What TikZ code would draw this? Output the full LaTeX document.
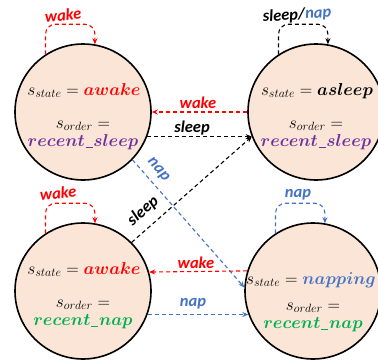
\documentclass[tikz,border=0pt]{standalone}
\usepackage{amsmath,bm}
\usepackage{fontspec}
\newfontfamily\lblfont{Carlito}
\usetikzlibrary{arrows.meta,calc}
\DeclareMathSizes{17}{17}{12.5}{10}
\definecolor{peach}{HTML}{FBE5D6}
\definecolor{myred}{HTML}{FF0000}
\definecolor{myblue}{HTML}{4472C4}
\definecolor{mypurple}{HTML}{7030A0}
\definecolor{mygreen}{HTML}{00B050}
\newcommand\usc{\kern0.04em\rule[-0.12em]{0.42em}{0.075em}\kern0.04em}
\begin{document}
\begin{tikzpicture}[x=1pt,y=-1pt,
 state/.style={circle,draw=black,line width=1.6pt,fill=peach,minimum size=136pt,inner sep=0pt},
 txt/.style={anchor=base,inner sep=0pt,font=\fontsize{17}{20}\selectfont},
 lbl/.style={inner sep=1pt,font=\lblfont\bfseries\itshape\fontsize{16.5}{18}\selectfont},
 tr/.style={line width=1.1pt,dash pattern=on 4pt off 3pt,-{Stealth[length=6pt,width=5pt]}},
 lp/.style={tr,rounded corners=10pt}]
\useasboundingbox (0,0) rectangle (378,362);
\clip (0,0) rectangle (378,362);
\node[state] (TL) at (83,112) {};
\node[state] (TR) at (316,112) {};
\node[state] (BL) at (83,291) {};
\node[state] (BR) at (313,291) {};
% texts
\node[txt] (TL1) at (84,95) {$s_{state} = \textcolor{myred}{\bm{awake}}$};
\node[txt] (TL2) at (83,128) {$s_{order} =$};
\node[txt] (TL3) at (83,146) {$\textcolor{mypurple}{\bm{recent}\usc\bm{sleep}}$};
\node[txt] (TR1) at (317,95) {$s_{state} = \bm{asleep}$};
\node[txt] (TR2) at (316,128) {$s_{order} =$};
\node[txt] (TR3) at (316,146) {$\textcolor{mypurple}{\bm{recent}\usc\bm{sleep}}$};
\node[txt] (BL1) at (84,274) {$s_{state} = \textcolor{myred}{\bm{awake}}$};
\node[txt] (BL2) at (83,307) {$s_{order} =$};
\node[txt] (BL3) at (83,325) {$\textcolor{mygreen}{\bm{recent}\usc\bm{nap}}$};
\node[txt] (BR1) at (311,284) {$s_{state} = \textcolor{myblue}{\bm{napping}}$};
\node[txt] (BR2) at (313,310) {$s_{order} =$};
\node[txt] (BR3) at (313,328) {$\textcolor{mygreen}{\bm{recent}\usc\bm{nap}}$};
% transitions
\draw[tr,myred] (TR.180) -- (TL.0);
\draw[tr,black] (TL.-21.6) -- (TR.201.6);
\draw[tr,myblue] (TL.-44) -- (BR.177);
\draw[tr,black] (BL.45) -- (TR.201.6);
\draw[tr,myred] (BR.163.8) -- (BL.16.2);
\draw[tr,myblue] (BL.-20.7) -- (BR.200.7);
% loops
\draw[lp,myred] (TL.123) |- ($(TL.80)+(0,-20)$) -- (TL.80);
\draw[lp,black] (TR.123) |- ($(TR.80)+(0,-20)$) -- (TR.80);
\draw[lp,myred] (BL.123) |- ($(BL.80)+(0,-20)$) -- (BL.80);
\draw[lp,myblue] (BR.123) |- ($(BR.80)+(0,-20)$) -- (BR.80);
% labels
\node[lbl,myred,rotate=5] (lTL) at (63,15) {wake};
\node[lbl,rotate=4] (lTR) at (297,15) {sleep/\textcolor{myblue}{nap}};
\node[lbl,myred,rotate=5] (lBL) at (58,193) {wake};
\node[lbl,myblue] (lBR) at (298,195) {nap};
\node[lbl,myred] (l1) at (198,103) {wake};
\node[lbl] (l2) at (192,128) {sleep};
\node[lbl,myblue,rotate=-49] (l3) at (158,170) {nap};
\node[lbl,rotate=41] (l4) at (143,211) {sleep};
\node[lbl,myred] (l5) at (196,263) {wake};
\node[lbl,myblue] (l6) at (193,304) {nap};
\end{tikzpicture}
\end{document}
